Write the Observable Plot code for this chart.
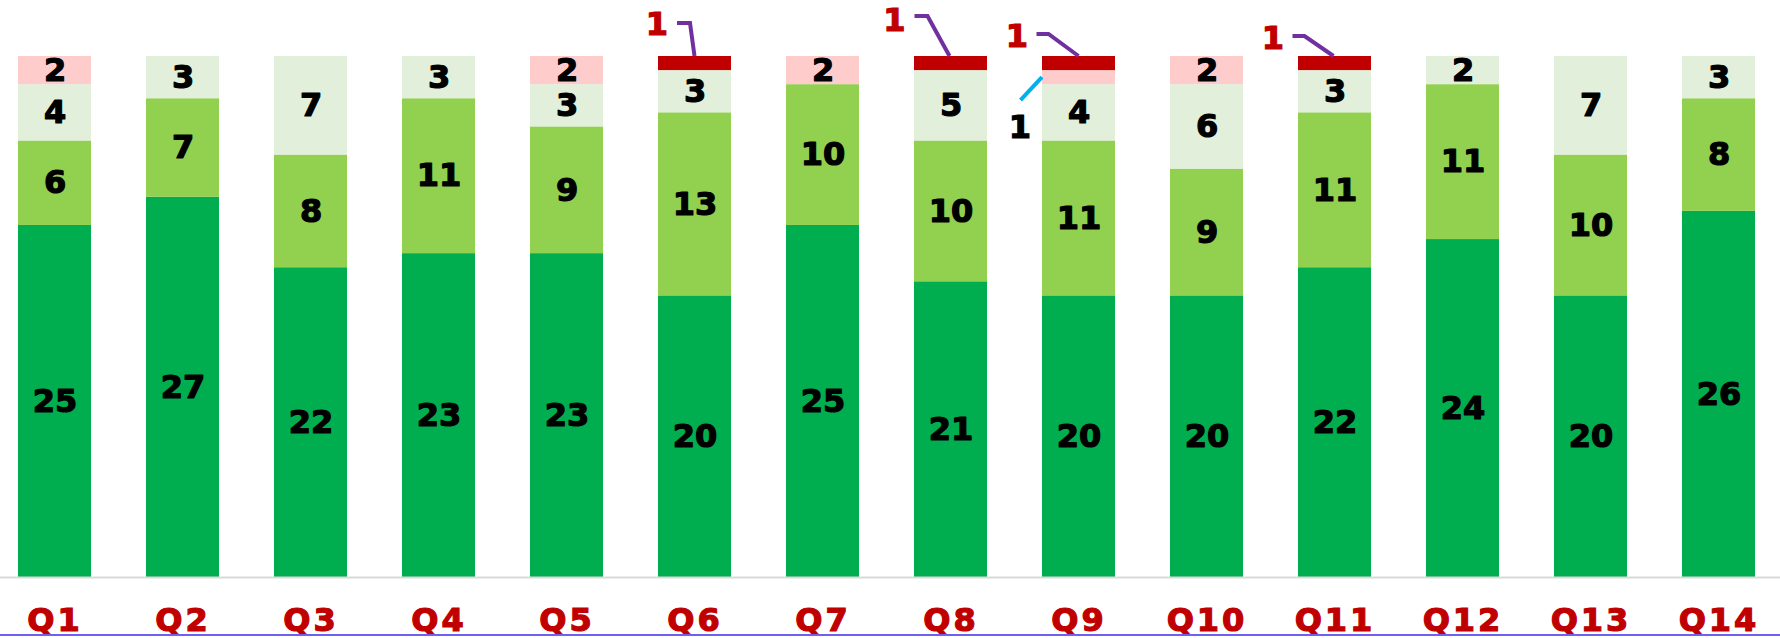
<!DOCTYPE html>
<html><head><meta charset="utf-8">
<script src="https://cdn.jsdelivr.net/npm/d3@7"></script>
<script src="https://cdn.jsdelivr.net/npm/@observablehq/plot@0.6"></script>
<style>
html,body{margin:0;padding:0;background:#fff;}
#chart svg{display:block;}
g[aria-label="x-axis tick label"] text{letter-spacing:3px;stroke:#c00000;stroke-width:1.2px;paint-order:stroke;}
</style></head><body><div id="chart"></div>
<script>
const quarters = ["Q1","Q2","Q3","Q4","Q5","Q6","Q7","Q8","Q9","Q10","Q11","Q12","Q13","Q14"];
const seriesNames = ["dark","light","pale","pink","red"];
const darkGreen  = [25,27,22,23,23,20,25,21,20,20,22,24,20,26];
const lightGreen = [6,7,8,11,9,13,10,10,11,9,11,11,10,8];
const paleGreen  = [4,3,7,3,3,3,0,5,4,6,3,2,7,3];
const pink       = [2,0,0,0,2,0,2,0,1,2,0,0,0,0];
const red        = [0,0,0,0,0,1,0,1,1,0,1,0,0,0];
const seriesColors = ["#00ad4f","#92d050","#e2efda","#ffcccc","#c00000"];

const seriesValues = [darkGreen, lightGreen, paleGreen, pink, red];
const rows = [];
seriesNames.forEach((s, si) => quarters.forEach((q, i) => rows.push({quarter: q, series: s, value: seriesValues[si][i]})));

const FONT = "'DejaVu Sans', Verdana, sans-serif";
const chart = Plot.plot({
  width: 1780, height: 638,
  marginTop: 56, marginBottom: 61, marginLeft: 0, marginRight: 0,
  x: {domain: quarters, range: [-0.9, 1774.9], paddingInner: 0.426, paddingOuter: 0.1, align: 0.5, label: null},
  y: {domain: [0, 37], axis: null},
  color: {domain: seriesNames, range: seriesColors},
  style: {fontFamily: FONT, background: "#fff", overflow: "visible"},
  marks: [
    Plot.barY(rows, {x: "quarter", y: "value", z: "series", fill: "series"}),
    Plot.ruleY([0], {stroke: "#d9d9d9", strokeWidth: 2}),
    Plot.text(rows, Plot.stackY({x: "quarter", y: "value", z: "series",
      text: d => d.value >= 2 ? String(d.value) : "",
      fontSize: 32, fontWeight: "bold", fill: "#000", stroke: "#000", strokeWidth: 1.2})),
    Plot.axisX({tickSize: 0, tickPadding: 31, fontSize: 32, fontWeight: "bold", fill: "#c00000", label: null})
  ]
});
document.getElementById("chart").appendChild(chart);

// Callouts for single-unit segments (pixel offsets relative to the segment anchor)
const calloutGeometry = {
  "Q6|red":  {anchor: "top",  label: [-37.5, -32], path: [[-17.5, -33], [-4.5, -33], [0, 0]]},
  "Q8|red":  {anchor: "top",  label: [-56, -36],   path: [[-36, -40], [-23, -40], [-1, 0]]},
  "Q9|red":  {anchor: "top",  label: [-61.5, -20], path: [[-42, -22], [-30, -22], [0, 0]]},
  "Q11|red": {anchor: "top",  label: [-61.5, -18], path: [[-42, -20], [-30, -20], [-1, 0]]},
  "Q9|pink": {anchor: "left", label: [-22, 50],    path: [[-21.5, 23], [0, 0]]}
};
const calloutStyle = {
  red:  {line: "#7030a0", text: "#c00000"},
  pink: {line: "#00b0f0", text: "#000000"}
};
const sx = chart.scale("x"), sy = chart.scale("y");
const svg = d3.select(chart);
const g = svg.append("g").attr("aria-label", "callouts");
quarters.forEach((q, i) => {
  let base = 0;
  seriesNames.forEach((s, si) => {
    const v = seriesValues[si][i];
    const geo = calloutGeometry[q + "|" + s];
    if (v === 1 && geo) {
      const bx = sx.apply(q);
      const ax = geo.anchor === "top" ? bx + sx.bandwidth / 2 : bx;
      const ay = geo.anchor === "top" ? sy.apply(base + v) : sy.apply(base + v / 2);
      const st = calloutStyle[s];
      g.append("path")
        .attr("d", d3.line()(geo.path.map(([dx, dy]) => [ax + dx, ay + dy])))
        .attr("fill", "none").attr("stroke", st.line).attr("stroke-width", 4);
      g.append("text")
        .attr("x", ax + geo.label[0]).attr("y", ay + geo.label[1])
        .attr("text-anchor", "middle").attr("dominant-baseline", "central")
        .attr("font-family", FONT).attr("font-size", 32).attr("font-weight", "bold")
        .attr("fill", st.text).attr("stroke", st.text).attr("stroke-width", 1.2)
        .text(String(v));
    }
    base += v;
  });
});
// bottom accent line
svg.append("line").attr("x1", 0).attr("x2", 1780).attr("y1", 635).attr("y2", 635)
  .attr("stroke", "#7060f0").attr("stroke-width", 2);
</script></body></html>
